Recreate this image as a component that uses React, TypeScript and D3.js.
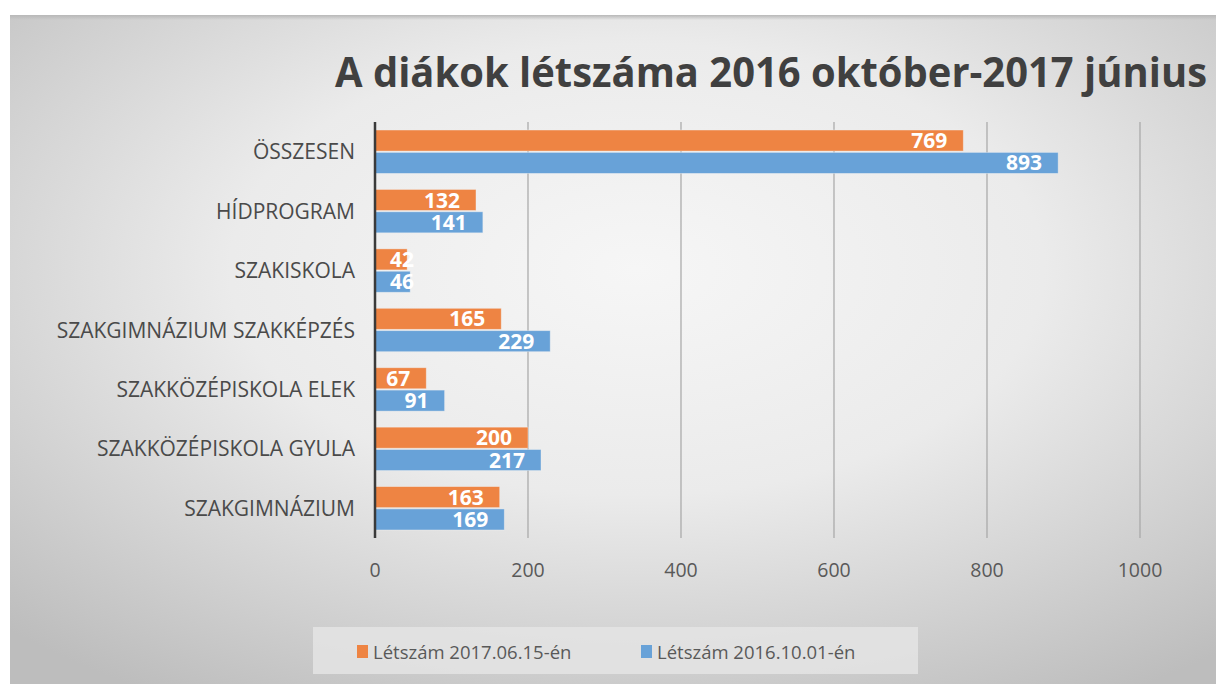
import React from "react";
import * as d3 from "d3";

const categories = [
  "ÖSSZESEN",
  "HÍDPROGRAM",
  "SZAKISKOLA",
  "SZAKGIMNÁZIUM SZAKKÉPZÉS",
  "SZAKKÖZÉPISKOLA ELEK",
  "SZAKKÖZÉPISKOLA GYULA",
  "SZAKGIMNÁZIUM",
];
const values2017 = [769, 132, 42, 165, 67, 200, 163];
const values2016 = [893, 141, 46, 229, 91, 217, 169];
const seriesNames = ["Létszám 2017.06.15-én", "Létszám 2016.10.01-én"];
const seriesColors = ["#EE8443", "#68A2D8"];
const xTicks = [0, 200, 400, 600, 800, 1000];
const title = "A diákok létszáma 2016 október-2017 június";

const W = 1216;
const H = 684;
const FONT = "'Open Sans', 'Noto Sans', sans-serif";

export default function App() {
  const x = d3.scaleLinear().domain([0, 1000]).range([375, 1140]);
  const y = d3
    .scaleBand<string>()
    .domain(categories)
    .range([122, 538])
    .paddingInner(0.27)
    .paddingOuter(0.135);
  const sub = d3
    .scaleBand<number>()
    .domain([0, 1])
    .range([0, y.bandwidth()])
    .paddingInner(0.06);
  const series = [values2017, values2016];

  return (
    <svg
      width={W}
      height={H}
      style={{ position: "absolute", left: 0, top: 0, display: "block" }}
    >
      <defs>
        <radialGradient id="bg" cx="0.52" cy="0.38" r="0.75">
          <stop offset="0" stopColor="#f6f6f6" />
          <stop offset="0.45" stopColor="#ebebeb" />
          <stop offset="1" stopColor="#bdbdbd" />
        </radialGradient>
        <linearGradient id="topshadow" x1="0" y1="0" x2="0" y2="1">
          <stop offset="0" stopColor="#b8b8b8" />
          <stop offset="1" stopColor="#b8b8b8" stopOpacity="0" />
        </linearGradient>
      </defs>
      <rect x={0} y={0} width={W} height={H} fill="#ffffff" />
      <rect x={10} y={15} width={W - 10} height={H - 15} fill="url(#bg)" />
      <rect x={10} y={15} width={W - 10} height={5} fill="url(#topshadow)" />

      <text
        x={771}
        y={87}
        textAnchor="middle"
        fontFamily={FONT}
        fontWeight="bold"
        fontSize={42}
        fill="#404040"
        textLength={872}
        lengthAdjust="spacingAndGlyphs"
      >
        {title}
      </text>

      {/* gridlines */}
      {xTicks.slice(1).map((t) => (
        <line
          key={t}
          x1={x(t)}
          x2={x(t)}
          y1={122}
          y2={538}
          stroke="#a6a6a6"
          strokeWidth={1.2}
        />
      ))}

      {/* bars */}
      {categories.map((c, i) => (
        <g key={c} transform={`translate(0,${y(c)})`}>
          {series.map((vals, s) => {
            const v = vals[i];
            const by = sub(s)!;
            const bh = sub.bandwidth();
            const end = x(v);
            const estW = String(v).length * 12.6;
            const fits = end - 16 - estW >= x(0) + 10;
            return (
              <g key={s}>
                <rect
                  x={x(0)}
                  y={by}
                  width={end - x(0)}
                  height={bh}
                  fill={seriesColors[s]}
                  stroke="#f3f3f3"
                  strokeOpacity={0.5}
                  strokeWidth={0.8}
                />
                <text
                  x={fits ? end - 16 : x(0) + 15}
                  y={by + bh / 2}
                  dy="0.36em"
                  textAnchor={fits ? "end" : "start"}
                  fontFamily={FONT}
                  fontWeight="bold"
                  fontSize={21}
                  fill="#ffffff"
                >
                  {v}
                </text>
              </g>
            );
          })}
        </g>
      ))}

      {/* category axis */}
      <line x1={x(0)} x2={x(0)} y1={122} y2={538} stroke="#3a3a3a" strokeWidth={2.5} />
      {categories.map((c) => (
        <text
          key={c}
          x={355}
          y={y(c)! + y.bandwidth() / 2}
          dy="0.36em"
          textAnchor="end"
          fontFamily={FONT}
          fontSize={21}
          fill="#4a4a4a"
        >
          {c}
        </text>
      ))}

      {/* x tick labels */}
      {xTicks.map((t) => (
        <text
          key={t}
          x={x(t)}
          y={570}
          dy="0.36em"
          textAnchor="middle"
          fontFamily={FONT}
          fontSize={19.5}
          fill="#595959"
        >
          {t}
        </text>
      ))}

      {/* legend */}
      <rect x={313} y={627} width={605} height={47} fill="#e4e4e4" opacity={0.85} />
      {seriesNames.map((n, i) => {
        const lx = i === 0 ? 357 : 641;
        return (
          <g key={n}>
            <rect x={lx} y={645} width={11} height={13} fill={seriesColors[i]} />
            <text
              x={lx + 16}
              y={652}
              dy="0.36em"
              fontFamily={FONT}
              fontSize={18.5}
              fill="#595959"
            >
              {n}
            </text>
          </g>
        );
      })}
    </svg>
  );
}
